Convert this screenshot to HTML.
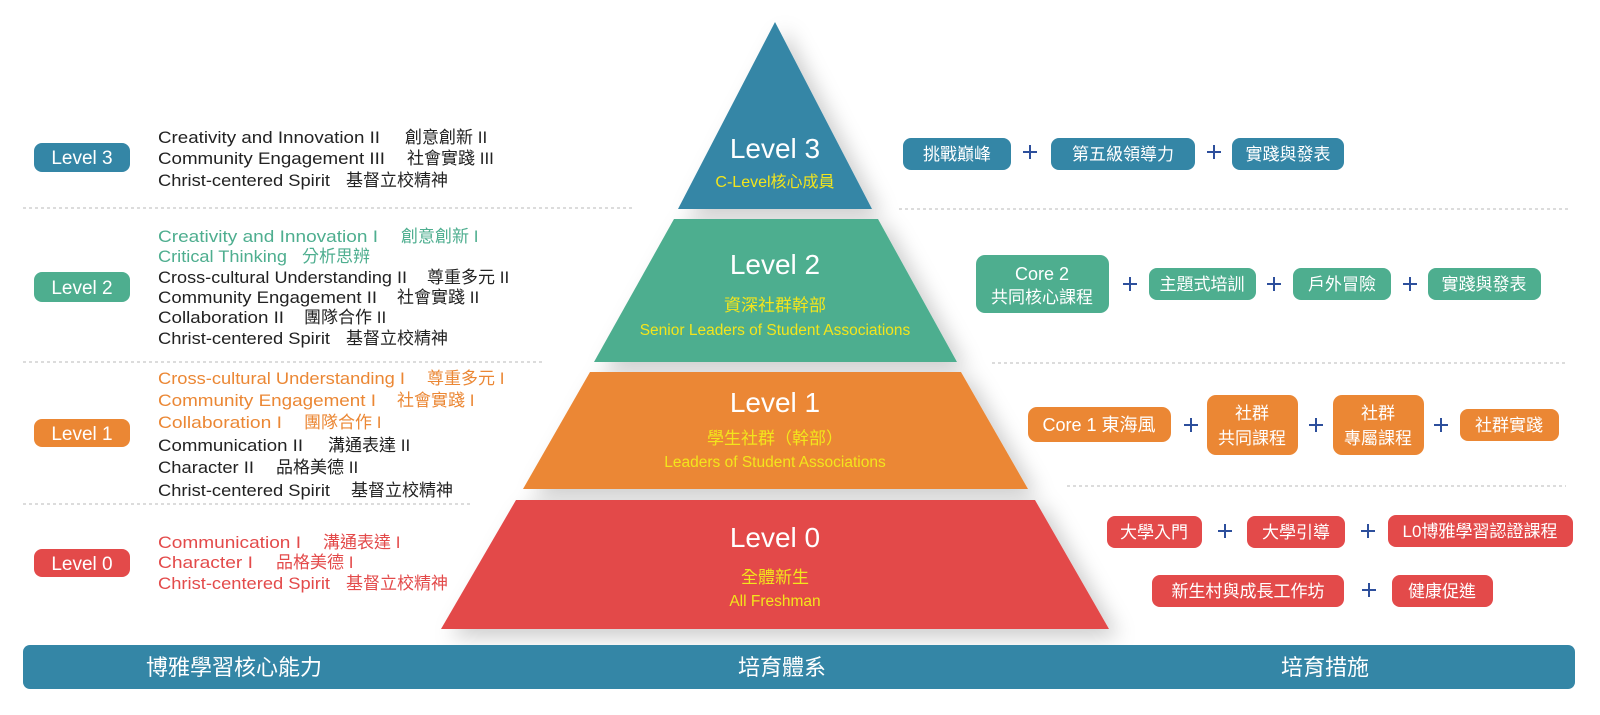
<!DOCTYPE html>
<html><head><meta charset="utf-8">
<style>
html,body{margin:0;padding:0;background:#fff;}
svg{display:block;}
text{font-family:"Liberation Sans","Noto Sans CJK TC",sans-serif;}
</style></head><body>
<svg width="1600" height="715" viewBox="0 0 1600 715" xmlns="http://www.w3.org/2000/svg">
<defs>
<filter id="sh" x="-20%" y="-20%" width="140%" height="140%">
<feDropShadow dx="10" dy="8" stdDeviation="10" flood-color="#000" flood-opacity="0.2"/>
</filter>
</defs>

<!-- dashed lines -->
<g stroke="#b8b8b8" stroke-width="1" stroke-dasharray="3,3">
<line x1="23" y1="208" x2="635" y2="208"/>
<line x1="23" y1="362" x2="545" y2="362"/>
<line x1="23" y1="504" x2="471" y2="504"/>
<line x1="899" y1="209" x2="1568" y2="209"/>
<line x1="992" y1="363" x2="1568" y2="363"/>
<line x1="1067" y1="486" x2="1566" y2="486"/>
</g>

<!-- pyramid -->
<g filter="url(#sh)">
<polygon points="775,22 872,209 678,209" fill="#3486a6"/>
<polygon points="674,219 878,219 957,362 594,362" fill="#4eae8f"/>
<polygon points="590,372 961,372 1028,489 523,489" fill="#eb8734"/>
<polygon points="516,500 1035,500 1109,629 441,629" fill="#e34a4a"/>
</g>
<g text-anchor="middle">
<text x="775" y="158" font-size="28" fill="#fff">Level  3</text>
<text x="775" y="187" font-size="16" fill="#f3e51c">C-Level核心成員</text>
<text x="775" y="274" font-size="28" fill="#fff">Level  2</text>
<text x="775" y="311" font-size="17" fill="#f3e51c">資深社群幹部</text>
<text x="775" y="335" font-size="15.5" fill="#f3e51c">Senior Leaders of Student Associations</text>
<text x="775" y="412" font-size="28" fill="#fff">Level  1</text>
<text x="775" y="444" font-size="17" fill="#f3e51c">學生社群（幹部）</text>
<text x="775" y="467" font-size="15.5" fill="#f3e51c">Leaders of Student Associations</text>
<text x="775" y="547" font-size="28" fill="#fff">Level  0</text>
<text x="775" y="583" font-size="17" fill="#f3e51c">全體新生</text>
<text x="775" y="606" font-size="15.5" fill="#f3e51c">All Freshman</text>
</g>

<!-- left badges -->
<rect x="34" y="143" width="96" height="29" rx="8" fill="#3486a6"/>
<rect x="34" y="272" width="96" height="30" rx="8" fill="#4eae8f"/>
<rect x="34" y="419" width="96" height="28" rx="8" fill="#eb8734"/>
<rect x="34" y="549" width="96" height="28" rx="8" fill="#e34a4a"/>
<g text-anchor="middle" font-size="19" fill="#fff">
<text x="82" y="164">Level 3</text>
<text x="82" y="294">Level 2</text>
<text x="82" y="440">Level 1</text>
<text x="82" y="570">Level 0</text>
</g>

<!-- left text -->
<g font-size="17">
<g fill="#222">
<text x="158" y="143" textLength="222" lengthAdjust="spacingAndGlyphs">Creativity and Innovation II</text><text x="405" y="143">創意創新 II</text>
<text x="158" y="164" textLength="227" lengthAdjust="spacingAndGlyphs">Community Engagement  III</text><text x="407" y="164">社會實踐 III</text>
<text x="158" y="186" textLength="172" lengthAdjust="spacingAndGlyphs">Christ-centered Spirit</text><text x="346" y="186">基督立校精神</text>
</g>
<g fill="#4eae8f">
<text x="158" y="242" textLength="220" lengthAdjust="spacingAndGlyphs">Creativity and Innovation I</text><text x="401" y="242">創意創新 I</text>
<text x="158" y="262" textLength="129" lengthAdjust="spacingAndGlyphs">Critical Thinking</text><text x="302" y="262">分析思辨</text>
</g>
<g fill="#222">
<text x="158" y="283" textLength="249" lengthAdjust="spacingAndGlyphs">Cross-cultural Understanding II</text><text x="427" y="283">尊重多元 II</text>
<text x="158" y="303" textLength="219" lengthAdjust="spacingAndGlyphs">Community Engagement II</text><text x="397" y="303">社會實踐 II</text>
<text x="158" y="323" textLength="126" lengthAdjust="spacingAndGlyphs">Collaboration II</text><text x="304" y="323">團隊合作 II</text>
<text x="158" y="344" textLength="172" lengthAdjust="spacingAndGlyphs">Christ-centered Spirit</text><text x="346" y="344">基督立校精神</text>
</g>
<g fill="#eb8734">
<text x="158" y="384" textLength="247" lengthAdjust="spacingAndGlyphs">Cross-cultural Understanding I</text><text x="427" y="384">尊重多元 I</text>
<text x="158" y="406" textLength="218" lengthAdjust="spacingAndGlyphs">Community Engagement I</text><text x="397" y="406">社會實踐 I</text>
<text x="158" y="428" textLength="124" lengthAdjust="spacingAndGlyphs">Collaboration I</text><text x="304" y="428">團隊合作 I</text>
</g>
<g fill="#222">
<text x="158" y="451" textLength="145" lengthAdjust="spacingAndGlyphs">Communication II</text><text x="328" y="451">溝通表達 II</text>
<text x="158" y="473" textLength="96" lengthAdjust="spacingAndGlyphs">Character II</text><text x="276" y="473">品格美德 II</text>
<text x="158" y="496" textLength="172" lengthAdjust="spacingAndGlyphs">Christ-centered Spirit</text><text x="351" y="496">基督立校精神</text>
</g>
<g fill="#e34a4a">
<text x="158" y="548" textLength="143" lengthAdjust="spacingAndGlyphs">Communication I</text><text x="323" y="548">溝通表達 I</text>
<text x="158" y="568" textLength="95" lengthAdjust="spacingAndGlyphs">Character I</text><text x="276" y="568">品格美德 I</text>
<text x="158" y="589" textLength="172" lengthAdjust="spacingAndGlyphs">Christ-centered Spirit</text><text x="346" y="589">基督立校精神</text>
</g>
</g>

<!-- right boxes -->
<g>
<rect x="903" y="138" width="108" height="32" rx="8" fill="#3486a6"/>
<rect x="1051" y="138" width="144" height="32" rx="8" fill="#3486a6"/>
<rect x="1232" y="138" width="112" height="32" rx="8" fill="#3486a6"/>

<rect x="976" y="255" width="133" height="58" rx="9" fill="#4eae8f"/>
<rect x="1149" y="268" width="107" height="32" rx="8" fill="#4eae8f"/>
<rect x="1293" y="268" width="98" height="32" rx="8" fill="#4eae8f"/>
<rect x="1428" y="268" width="113" height="32" rx="8" fill="#4eae8f"/>

<rect x="1028" y="407" width="143" height="35" rx="9" fill="#eb8734"/>
<rect x="1207" y="395" width="91" height="60" rx="9" fill="#eb8734"/>
<rect x="1333" y="395" width="91" height="60" rx="9" fill="#eb8734"/>
<rect x="1460" y="409" width="99" height="32" rx="8" fill="#eb8734"/>

<rect x="1107" y="516" width="95" height="32" rx="8" fill="#e34a4a"/>
<rect x="1247" y="516" width="98" height="32" rx="8" fill="#e34a4a"/>
<rect x="1388" y="515" width="185" height="32" rx="8" fill="#e34a4a"/>
<rect x="1152" y="575" width="192" height="32" rx="8" fill="#e34a4a"/>
<rect x="1392" y="575" width="101" height="32" rx="8" fill="#e34a4a"/>
</g>
<g text-anchor="middle" font-size="17" fill="#fff">
<text x="957" y="160">挑戰巔峰</text>
<text x="1123" y="160">第五級領導力</text>
<text x="1288" y="160">實踐與發表</text>
<text x="1042" y="280" font-size="18">Core 2</text>
<text x="1042" y="303">共同核心課程</text>
<text x="1202" y="290">主題式培訓</text>
<text x="1342" y="290">戶外冒險</text>
<text x="1484" y="290">實踐與發表</text>
<text x="1099" y="431" font-size="18">Core 1 東海風</text>
<text x="1252" y="419">社群</text>
<text x="1252" y="444">共同課程</text>
<text x="1378" y="419">社群</text>
<text x="1378" y="444">專屬課程</text>
<text x="1509" y="431">社群實踐</text>
<text x="1154" y="538">大學入門</text>
<text x="1296" y="538">大學引導</text>
<text x="1480" y="537">L0博雅學習認證課程</text>
<text x="1248" y="597">新生村與成長工作坊</text>
<text x="1442" y="597">健康促進</text>
</g>

<!-- plus signs -->
<g stroke="#2d4f9c" stroke-width="2">
<path d="M1023 152h14M1030 145v14"/>
<path d="M1207 152h14M1214 145v14"/>
<path d="M1123 284h14M1130 277v14"/>
<path d="M1267 284h14M1274 277v14"/>
<path d="M1403 284h14M1410 277v14"/>
<path d="M1184 425h14M1191 418v14"/>
<path d="M1309 425h14M1316 418v14"/>
<path d="M1434 425h14M1441 418v14"/>
<path d="M1218 531h14M1225 524v14"/>
<path d="M1361 531h14M1368 524v14"/>
<path d="M1362 590h14M1369 583v14"/>
</g>

<!-- bottom bar -->
<rect x="23" y="645" width="1552" height="44" rx="7" fill="#3486a6"/>
<g text-anchor="middle" font-size="22" fill="#fff">
<text x="234" y="675">博雅學習核心能力</text>
<text x="782" y="675">培育體系</text>
<text x="1325" y="675">培育措施</text>
</g>
</svg>
</body></html>
